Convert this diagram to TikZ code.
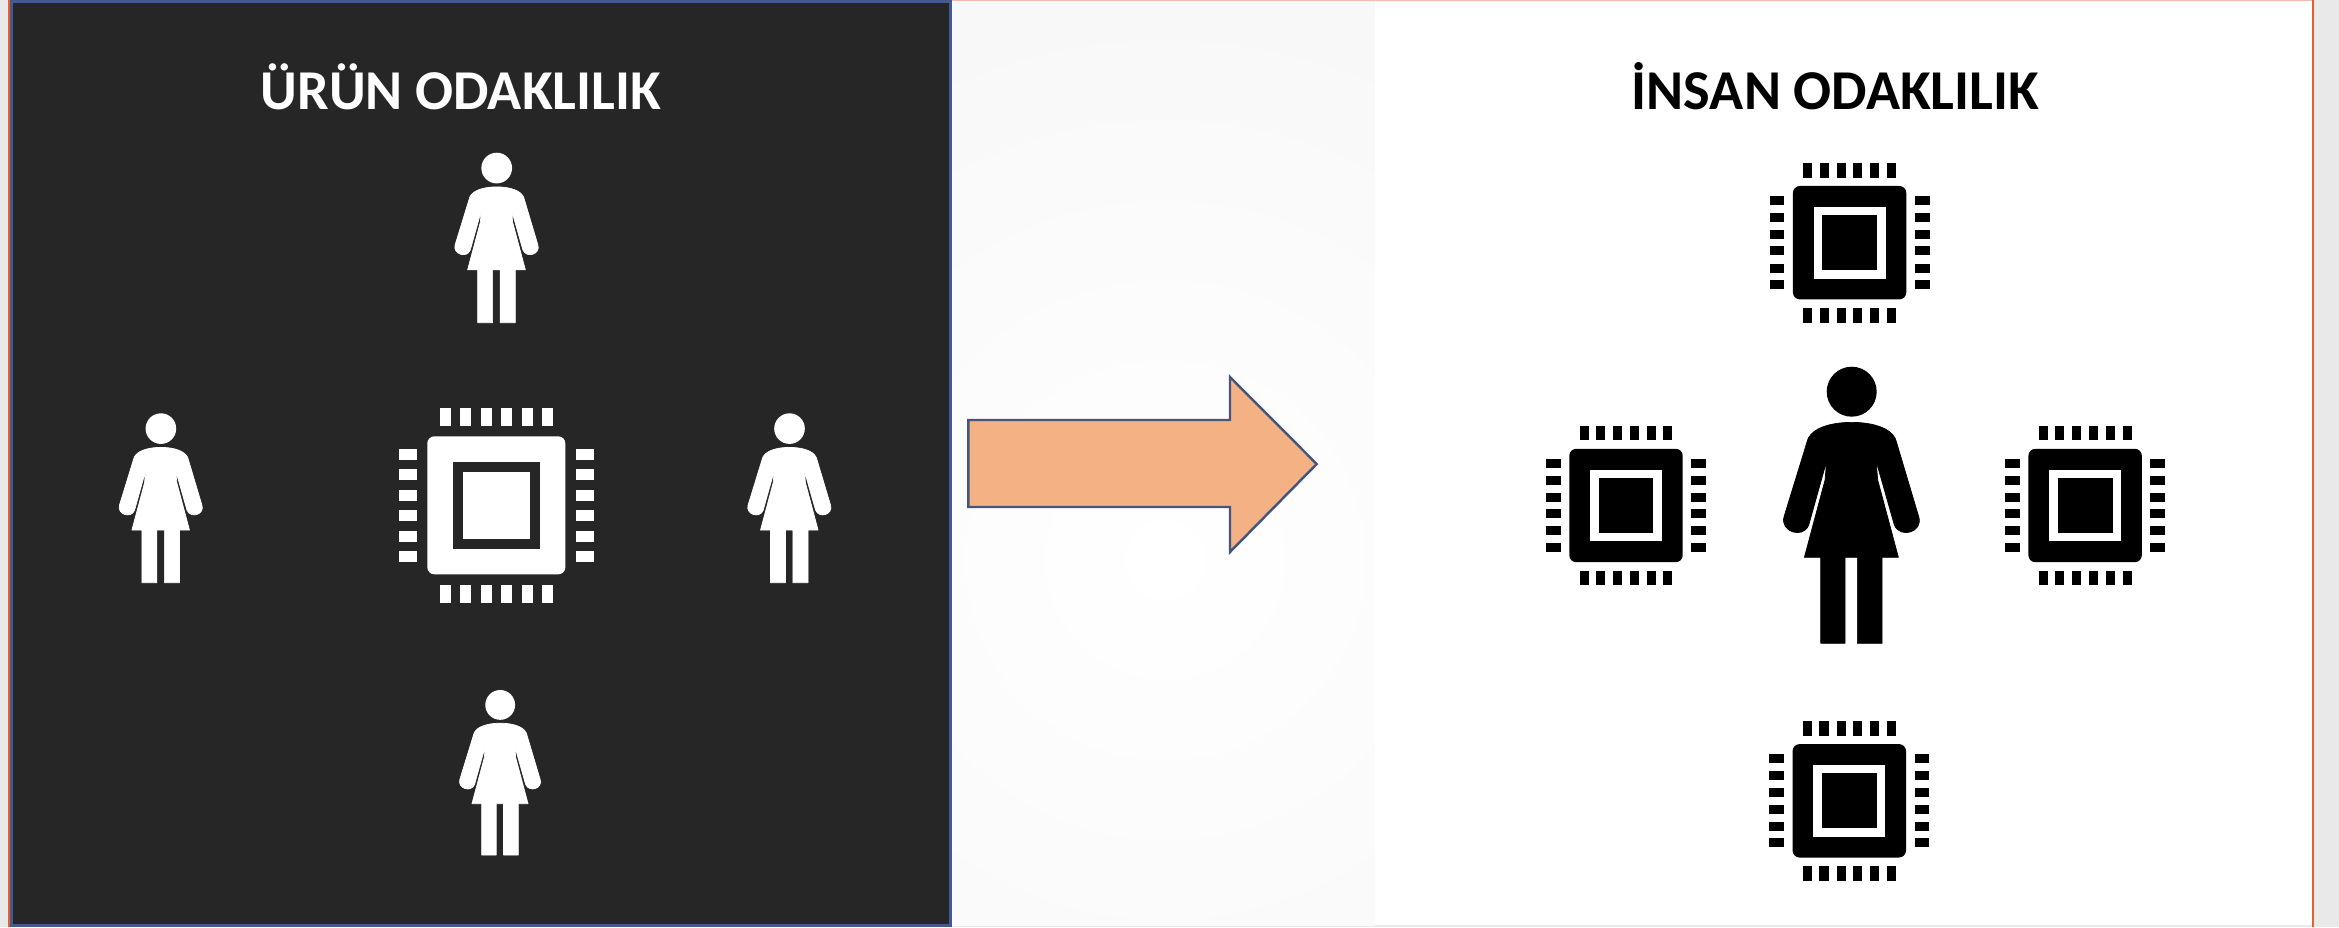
\documentclass[tikz,border=0pt]{standalone}
\usepackage{fontspec}
\setmainfont{Carlito}
\usepackage{xcolor}
\definecolor{panel900}{HTML}{262626}
\definecolor{page200}{HTML}{E9E9E9}
\definecolor{fade100}{HTML}{F8F8F8}
\definecolor{edgeblue}{HTML}{44598F}
\definecolor{edgeorange}{HTML}{E4602F}
\definecolor{edgepale}{HTML}{F6BBA8}
\definecolor{arrowfill}{HTML}{F4B183}
\definecolor{arrowedge}{HTML}{44567F}
\usetikzlibrary{positioning}
\tikzset{
    pics/chip/.style n args={2}{code={
        \fill[#1, rounded corners=0.7mm] (-69,-69) rectangle (69,69);
        \fill[#2] (-43.7,-43.7) rectangle (43.7,43.7);
        \fill[#1] (-33.4,-33.4) rectangle (33.4,33.4);
        \foreach \p in {-51,-30.8,-10,10,30.8,51} {
            \fill[#1] (\p-5.5,-97.3) rectangle (\p+5.5,-79.3);
            \fill[#1] (\p-5.5,79.3) rectangle (\p+5.5,97.3);
            \fill[#1] (-97.3,\p-5.5) rectangle (-79.3,\p+5.5);
            \fill[#1] (79.3,\p-5.5) rectangle (97.3,\p+5.5);
        }
    }},
    pics/woman/.style={code={
        \fill[#1] (0,75) circle (75);
        \filldraw[#1, line width=0.2pt, line join=round] (0,167) .. controls (-50,167) and (-100,178) .. (-122,203)
            .. controls (-130,212) .. (-136,232)
            -- (-203,450) .. controls (-216,495) and (-146,518) .. (-129,475)
            -- (-75,282) -- (-80,340) -- (-142,572) -- (-93,572) -- (-93,830) -- (-20,830) -- (-20,572)
            -- (17,572) -- (17,830) -- (91,830) -- (91,572) -- (140,572)
            -- (78,340) -- (73,282) -- (128,475)
            .. controls (146,518) and (216,495) .. (201,450)
            -- (136,232) .. controls (130,212) .. (122,203)
            .. controls (100,178) and (50,167) .. (0,167) -- cycle;
    }},
}
\begin{document}
\begin{tikzpicture}[
    x=0.01cm, y=-0.01cm,
    title/.style={font=\fontsize{16}{18}\selectfont\bfseries, anchor=base},
    bigarrow/.style={draw=arrowedge, fill=arrowfill, line width=0.7pt, line join=miter},
]
\useasboundingbox (0,0) rectangle (2339,927);
\fill[page200] (0,0) rectangle (2339,927);
\fill[white] (950,0) rectangle (2313,925);
\begin{scope}
\clip (950,0) rectangle (1375,925);
\fill[fade100] (950,0) rectangle (1375,925);
\shade[inner color=white, outer color=fade100] (1165,560) circle (560);
\end{scope}
\draw[edgepale, line width=0.4pt] (950,0.5) -- (2313,0.5);
\draw[edgeorange, line width=0.6pt] (2313,0) -- (2313,927);
\draw[edgeorange, line width=0.6pt] (9,0) -- (9,927);
\draw[edgeblue, fill=panel900, line width=0.8pt] (11.5,1.5) rectangle (950.5,925.5);

\node[title, text=white] (titleurun) at (461,109.3) {ÜRÜN ODAKLILIK};
\node[title, text=black] (titleinsan) at (1835.5,109.3) {İNSAN ODAKLILIK};

\pic (chipcenter) at (496.3,505.3) {chip={white}{panel900}};
\pic[scale=0.2048] (womantop) at (496.7,152.7) {woman=white};
\pic[scale=0.2041] (womanleft) at (160.9,413.3) {woman=white};
\pic[scale=0.2041] (womanright) at (789.5,413.3) {woman=white};
\pic[scale=0.1988] (womanbottom) at (500.2,690) {woman=white};

\draw[bigarrow] (968.3,420) -- (1230,420) -- (1230,377) -- (1316.7,464) -- (1230,552) -- (1230,507) -- (968.3,507) -- cycle;

\pic[scale=0.3333] (womancenter) at (1851.7,366.7) {woman=black};
\pic[scale=0.822] (chiptop) at (1849.6,242.7) {chip={black}{white}};
\pic[scale=0.822] (chipleft) at (1626,505.5) {chip={black}{white}};
\pic[scale=0.822] (chipright) at (2085.1,505.5) {chip={black}{white}};
\pic[scale=0.822] (chipbottom) at (1849.3,800.8) {chip={black}{white}};
\end{tikzpicture}
\end{document}
